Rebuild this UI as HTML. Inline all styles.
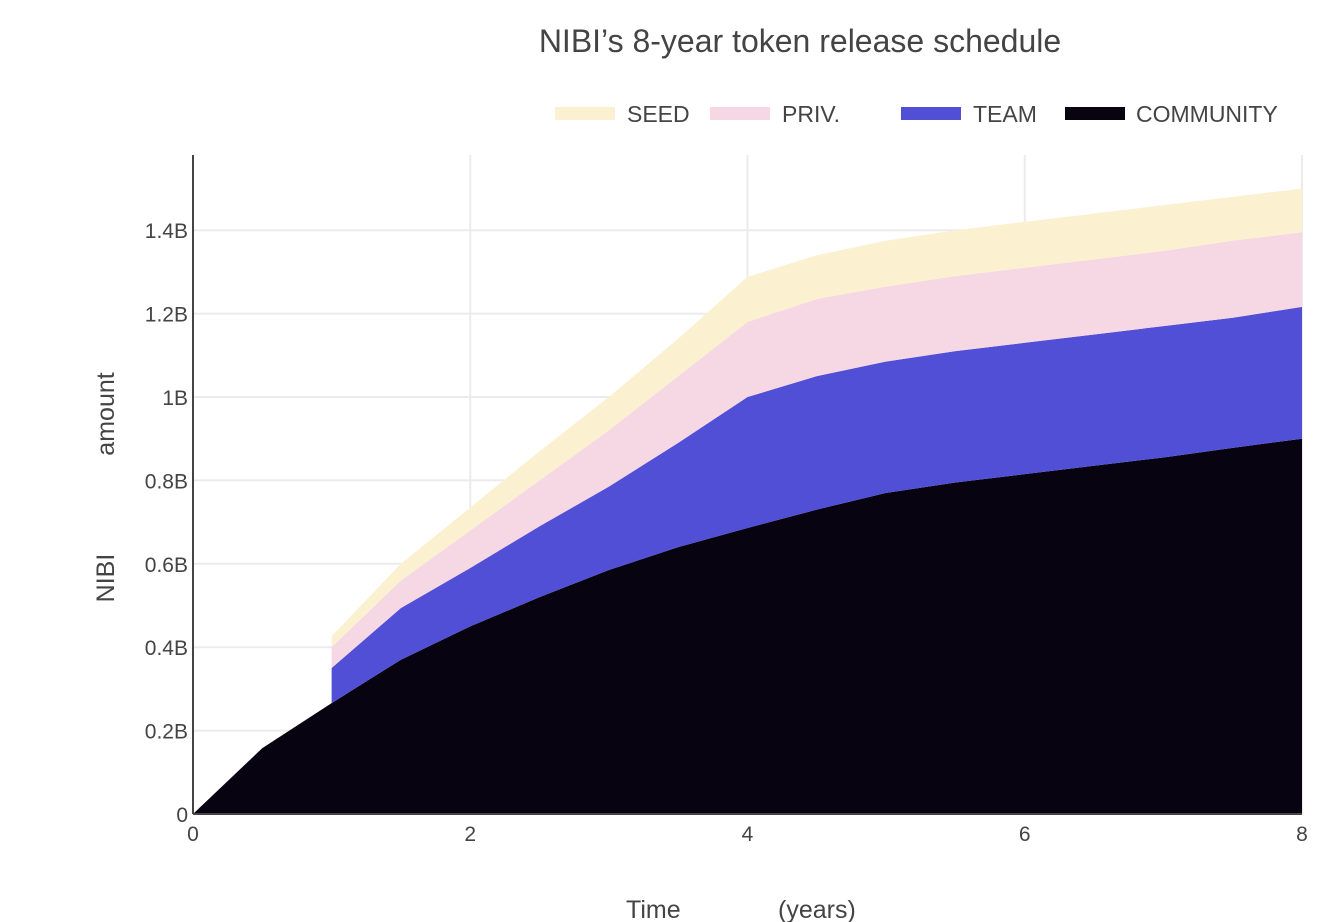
<!DOCTYPE html>
<html><head><meta charset="utf-8"><style>
body{margin:0;background:#fff;}
svg{display:block;font-family:"Liberation Sans",sans-serif;}
</style></head><body>
<svg id="chart" width="1332" height="922">
<text x="800" y="52" text-anchor="middle" font-size="32" fill="#444">NIBI’s 8-year token release schedule</text>
<g id="grid"></g>
<g id="areas"></g>
<g id="axes"></g>
<g font-size="23" fill="#444">
<rect x="555" y="107" width="60" height="13" fill="#fbf1d0"/>
<text x="627" y="122">SEED</text>
<rect x="710" y="107" width="60" height="13" fill="#f6d8e4"/>
<text x="782" y="122">PRIV.</text>
<rect x="901" y="107" width="60" height="13" fill="#524fd7"/>
<text x="973" y="122">TEAM</text>
<rect x="1065" y="107" width="60" height="13" fill="#080310"/>
<text x="1136" y="122">COMMUNITY</text>
</g>
<text x="626" y="918" font-size="25" fill="#444">Time</text>
<text x="778" y="918" font-size="25" fill="#444">(years)</text>
<text transform="translate(114,414) rotate(-90)" text-anchor="middle" font-size="25" fill="#444">amount</text>
<text transform="translate(114,578) rotate(-90)" text-anchor="middle" font-size="25" fill="#444">NIBI</text>
</svg>
<script>
const times=[0,0.5,1,1,1.5,2,2.5,3,3.5,4,4.5,5,5.5,6,6.5,7,7.5,8];
const community=[0,0.158,0.266,0.266,0.37,0.45,0.52,0.585,0.64,0.686,0.73,0.77,0.795,0.815,0.835,0.855,0.878,0.90];
const team=[0,0,0,0.084,0.124,0.14,0.17,0.2,0.25,0.314,0.32,0.315,0.315,0.315,0.315,0.315,0.312,0.316];
const priv=[0,0,0,0.05,0.066,0.09,0.11,0.135,0.16,0.18,0.185,0.18,0.18,0.18,0.18,0.18,0.185,0.179];
const seed=[0,0,0,0.027,0.04,0.055,0.07,0.08,0.09,0.108,0.105,0.11,0.11,0.11,0.11,0.11,0.105,0.105];
const xTicks=[0,2,4,6,8];
const yTicks=[0,0.2,0.4,0.6,0.8,1,1.2,1.4];
const yTickLabels=["0","0.2B","0.4B","0.6B","0.8B","1B","1.2B","1.4B"];
const X0=193,X1=1302,Y0=814,PER=417;
const xs=t=>X0+t*(X1-X0)/8;
const ys=v=>Y0-v*PER;
const NS="http://www.w3.org/2000/svg";
const grid=document.getElementById('grid'),areas=document.getElementById('areas'),axes=document.getElementById('axes');
function mk(tag,attrs,parent){const e=document.createElementNS(NS,tag);for(const k in attrs)e.setAttribute(k,attrs[k]);parent.appendChild(e);return e;}
yTicks.forEach((v,i)=>{
  if(v>0){const l=mk('line',{x1:X0,x2:X1,y1:ys(v),y2:ys(v),stroke:'#ebebeb','stroke-width':2},grid);
  
  }
  const t=mk('text',{x:188,y:ys(v)+8,'text-anchor':'end','font-size':21,fill:'#444'},axes);
  t.textContent=yTickLabels[i];
  
  
});
xTicks.forEach(v=>{
  if(v>0){const l=mk('line',{x1:xs(v),x2:xs(v),y1:155,y2:Y0,stroke:'#ebebeb','stroke-width':2},grid);
  
  }
  const t=mk('text',{x:xs(v),y:841,'text-anchor':'middle','font-size':21,fill:'#444'},axes);
  t.textContent=String(v);
  
  
});
const series=[[community,'#080310','community'],[team,'#524fd7','team'],[priv,'#f6d8e4','priv'],[seed,'#fbf1d0','seed']];
let base=times.map(()=>0);
series.forEach(([vals,col,name])=>{
  const top=base.map((b,i)=>b+vals[i]);
  let d='M'+times.map((t,i)=>xs(t)+','+ys(top[i])).join(' L');
  for(let i=times.length-1;i>=0;i--)d+=' L'+xs(times[i])+','+ys(base[i]);
  const p=mk('path',{d:d+'Z',fill:col},areas);
  
  
  base=top;
});
const ya=mk('line',{x1:X0,x2:X0,y1:155,y2:Y0,stroke:'#444','stroke-width':2},axes);


const xa=mk('line',{x1:X0,x2:X1,y1:Y0,y2:Y0,stroke:'#444','stroke-width':2},axes);


</script>
</body></html>
